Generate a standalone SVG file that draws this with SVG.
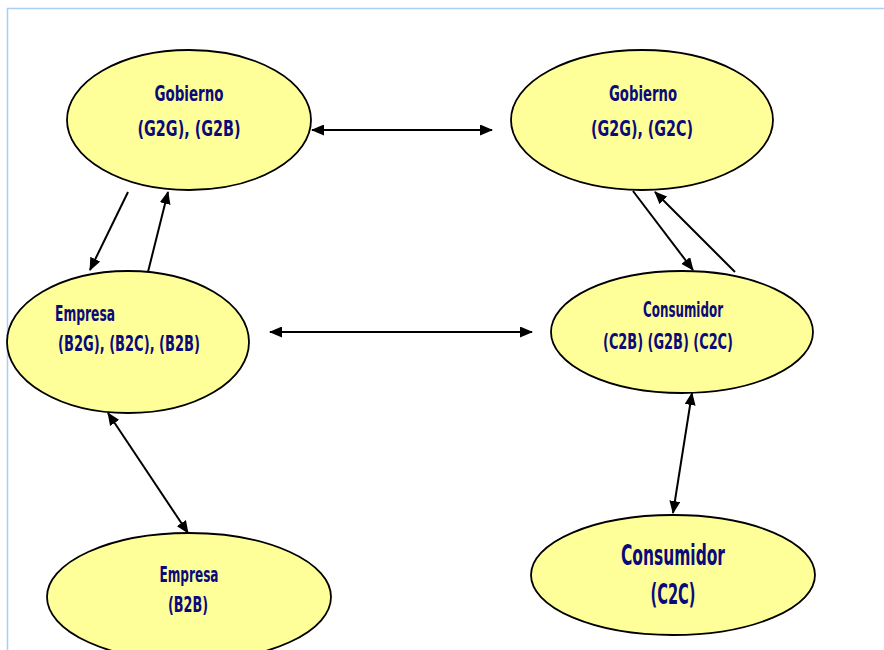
<svg xmlns="http://www.w3.org/2000/svg" width="884" height="650" viewBox="0 0 884 650">
<defs>
<marker id="ah" viewBox="0 0 13 11" refX="12" refY="5.5" markerWidth="13" markerHeight="11" markerUnits="userSpaceOnUse" orient="auto-start-reverse">
<path d="M0,0 L13,5.5 L0,11 Z" fill="#000"/>
</marker>
</defs>
<style>
.node ellipse{fill:#ffff99;stroke:#000;stroke-width:1.8}
.node text{font-family:"DejaVu Sans Condensed","DejaVu Sans",sans-serif;font-stretch:condensed;font-weight:bold;fill:#0a0a7a;font-size:21px}
.node text.big{font-size:28px}
.conn line{stroke:#000;stroke-width:2;fill:none}
</style>
<rect width="884" height="650" fill="#fff"/>
<path d="M7.5,650 L7.5,8.5 L884,8.5" fill="none" stroke="#a8d0f5" stroke-width="1.5"/>
<g id="gob1" class="node">
<ellipse cx="189" cy="120" rx="122" ry="70"/>
<text x="189" y="101" text-anchor="middle" textLength="69" lengthAdjust="spacingAndGlyphs">Gobierno</text>
<text x="189" y="136" text-anchor="middle" textLength="103" lengthAdjust="spacingAndGlyphs">(G2G),  (G2B)</text>
</g>
<g id="gob2" class="node">
<ellipse cx="642" cy="120" rx="131" ry="70"/>
<text x="643" y="101" text-anchor="middle" textLength="68" lengthAdjust="spacingAndGlyphs">Gobierno</text>
<text x="642" y="136" text-anchor="middle" textLength="102" lengthAdjust="spacingAndGlyphs">(G2G),  (G2C)</text>
</g>
<g id="emp1" class="node">
<ellipse cx="128" cy="342" rx="121" ry="71"/>
<text x="55" y="321" textLength="60" lengthAdjust="spacingAndGlyphs">Empresa</text>
<text x="58" y="351" textLength="142" lengthAdjust="spacingAndGlyphs">(B2G),  (B2C),  (B2B)</text>
</g>
<g id="con1" class="node">
<ellipse cx="682" cy="332" rx="131" ry="61"/>
<text x="683" y="317" text-anchor="middle" textLength="80" lengthAdjust="spacingAndGlyphs">Consumidor</text>
<text x="668" y="349" text-anchor="middle" textLength="130" lengthAdjust="spacingAndGlyphs">(C2B)  (G2B)  (C2C)</text>
</g>
<g id="emp2" class="node">
<ellipse cx="189" cy="597" rx="142" ry="64"/>
<text x="189" y="582" text-anchor="middle" textLength="59" lengthAdjust="spacingAndGlyphs">Empresa</text>
<text x="188" y="612" text-anchor="middle" textLength="40" lengthAdjust="spacingAndGlyphs">(B2B)</text>
</g>
<g id="con2" class="node">
<ellipse cx="673" cy="575" rx="142" ry="60"/>
<text class="big" x="673" y="565" text-anchor="middle" textLength="104" lengthAdjust="spacingAndGlyphs">Consumidor</text>
<text class="big" x="673" y="604" text-anchor="middle" textLength="45" lengthAdjust="spacingAndGlyphs">(C2C)</text>
</g>
<g id="connectors" class="conn">
<line x1="312" y1="130" x2="492" y2="130" marker-start="url(#ah)" marker-end="url(#ah)"/>
<line x1="270" y1="332" x2="532" y2="332" marker-start="url(#ah)" marker-end="url(#ah)"/>
<line x1="128" y1="192" x2="90" y2="270" marker-end="url(#ah)"/>
<line x1="148" y1="272" x2="168" y2="192" marker-end="url(#ah)"/>
<line x1="633" y1="191" x2="693" y2="270" marker-end="url(#ah)"/>
<line x1="735" y1="272" x2="655" y2="192" marker-end="url(#ah)"/>
<line x1="108" y1="413" x2="188" y2="533" marker-start="url(#ah)" marker-end="url(#ah)"/>
<line x1="692" y1="393" x2="673" y2="513" marker-start="url(#ah)" marker-end="url(#ah)"/>
</g>
</svg>
